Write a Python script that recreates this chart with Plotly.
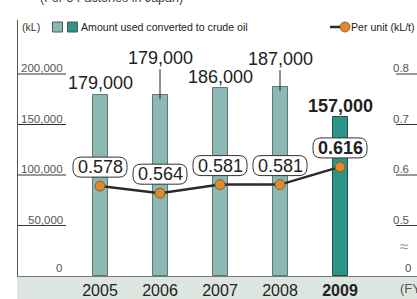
import plotly.graph_objects as go

# ---- data ----
years = [2005, 2006, 2007, 2008, 2009]
year_labels = ["2005", "2006", "2007", "2008", "<b>2009</b>"]
amount_kl = [179000, 179000, 186000, 187000, 157000]
amount_labels = ["179,000", "179,000", "186,000", "187,000", "<b>157,000</b>"]
per_unit = [0.578, 0.564, 0.581, 0.581, 0.616]
per_unit_labels = ["0.578", "0.564", "0.581", "0.581", "<b>0.616</b>"]
left_ticks = [50000, 100000, 150000, 200000]
left_tick_text = ["50,000", "100,000", "150,000", "200,000"]
right_ticks = [0.5, 0.6, 0.7, 0.8]
right_tick_text = ["0.5", "0.6", "0.7", "0.8"]

# ---- geometry ----
W, H = 417, 299
ML, MR, MT, MB = 18, 0, 20, 23
PW, PH = W - ML - MR, H - MT - MB
Y_MAX = PH / 50.5 * 50000          # 50,000 kL per 50.5 px
R_MIN = 0.4                        # right axis aligned: 0.5 <-> 50,000
R_MAX = R_MIN + Y_MAX / 500000
X_MIN, X_MAX = 2005 - 82 / 60, 2009 + 77 / 60


def px(xp):
    return (xp - ML) / PW


def py(yp):
    return (H - MB - yp) / PH


FONT = "Liberation Sans, Arial, Helvetica, sans-serif"
LIGHT, DARK = "#8cb8b3", "#2b9589"
LIGHT_LINE, DARK_LINE = "#5f7874", "#24504b"
SMALL = 10.6

fig = go.Figure()
fig.add_trace(go.Bar(
    x=years, y=amount_kl, width=0.25,
    marker=dict(color=[LIGHT] * 4 + [DARK],
                line=dict(color=[LIGHT_LINE] * 4 + [DARK_LINE], width=1)),
    showlegend=False, hoverinfo="skip"))
fig.add_trace(go.Scatter(
    x=years, y=per_unit, yaxis="y2", mode="lines+markers",
    line=dict(color="#2a2a2a", width=2.5),
    marker=dict(size=10, color="#e0892d", line=dict(color="#7a5222", width=0.8)),
    showlegend=False, hoverinfo="skip"))

shapes = []
annotations = []

# bottom grey band
shapes.append(dict(type="rect", xref="paper", yref="paper", x0=px(17), x1=1.0,
                   y0=py(H), y1=0, fillcolor="#dde5e0", line_width=0, layer="below"))

# left ticks (underlined labels)
for v, t in zip(left_ticks, left_tick_text):
    shapes.append(dict(type="line", xref="paper", yref="y", x0=0, x1=px(66), y0=v, y1=v,
                       line=dict(color="#333", width=1)))
    annotations.append(dict(xref="paper", yref="y", x=px(65), y=v, text=t, showarrow=False,
                            xanchor="right", yanchor="bottom", yshift=-2,
                            font=dict(family=FONT, size=11.5, color="#555")))
annotations.append(dict(xref="paper", yref="y", x=px(64), y=0, text="0", showarrow=False,
                        xanchor="right", yanchor="bottom", yshift=0,
                        font=dict(family=FONT, size=11.5, color="#555")))

# right ticks
for v, t in zip(right_ticks, right_tick_text):
    shapes.append(dict(type="line", xref="paper", yref="y2", x0=px(396), x1=1.0, y0=v, y1=v,
                       line=dict(color="#333", width=1)))
    annotations.append(dict(xref="paper", yref="y2", x=px(411), y=v, text=t, showarrow=False,
                            xanchor="right", yanchor="bottom", yshift=-2,
                            font=dict(family=FONT, size=11.5, color="#555")))
annotations.append(dict(xref="paper", yref="y2", x=px(413), y=R_MIN, text="0", showarrow=False,
                        xanchor="right", yanchor="bottom", yshift=0,
                        font=dict(family=FONT, size=11.5, color="#555")))
annotations.append(dict(xref="paper", yref="paper", x=px(404), y=py(246), text="≈",
                        showarrow=False, xanchor="center", yanchor="middle",
                        font=dict(family=FONT, size=16, color="#999")))
annotations.append(dict(xref="paper", yref="paper", x=px(398), y=py(288), text="(FY)",
                        showarrow=False, xanchor="left", yanchor="middle",
                        font=dict(family=FONT, size=13, color="#555")))

# title (cut at top)
annotations.append(dict(xref="paper", yref="paper", x=px(111), y=py(-2), text="(For 5 Factories in Japan)",
                        showarrow=False, xanchor="center", yanchor="middle",
                        font=dict(family=FONT, size=12.5, color="#444")))

# legend
annotations.append(dict(xref="paper", yref="paper", x=px(20), y=py(27), text="(kL)",
                        showarrow=False, xanchor="left", yanchor="middle",
                        font=dict(family=FONT, size=SMALL, color="#333")))
shapes.append(dict(type="rect", xref="paper", yref="paper", x0=px(52.5), x1=px(62.5),
                   y0=py(32), y1=py(22), fillcolor=LIGHT, line=dict(color="#555", width=1)))
shapes.append(dict(type="rect", xref="paper", yref="paper", x0=px(67.5), x1=px(77.5),
                   y0=py(32), y1=py(22), fillcolor=DARK, line=dict(color="#555", width=1)))
annotations.append(dict(xref="paper", yref="paper", x=px(79), y=py(27),
                        text="Amount used converted to crude oil",
                        showarrow=False, xanchor="left", yanchor="middle",
                        font=dict(family=FONT, size=SMALL, color="#222")))
shapes.append(dict(type="line", xref="paper", yref="paper", x0=px(330), x1=px(343),
                   y0=py(27), y1=py(27), line=dict(color="#2a2a2a", width=2.5)))
shapes.append(dict(type="circle", xref="paper", yref="paper", x0=px(340), x1=px(350),
                   y0=py(32), y1=py(22), fillcolor="#e0892d", line=dict(color="#7a5222", width=0.8)))
annotations.append(dict(xref="paper", yref="paper", x=px(349), y=py(27),
                        text="Per unit (kL/t)",
                        showarrow=False, xanchor="left", yanchor="middle",
                        font=dict(family=FONT, size=SMALL, color="#222")))

# amount labels
label_shift = [12.7, None, 11.5, None, 11]
arrow_ay = [None, -41.5, None, -32.5, None]
for i, (x, v, t) in enumerate(zip(years, amount_kl, amount_labels)):
    f = dict(family=FONT, size=18, color="#222")
    if arrow_ay[i] is None:
        annotations.append(dict(x=x, y=v, xref="x", yref="y", text=t, showarrow=False,
                                yanchor="middle", yshift=label_shift[i], font=f))
    else:
        annotations.append(dict(x=x, y=v, xref="x", yref="y", text=t, showarrow=True,
                                arrowhead=0, arrowwidth=1, arrowcolor="#222",
                                ax=0, ay=arrow_ay[i], yshift=-4, standoff=0, font=f))

# per-unit labels in rounded boxes
BW, BH, R, OFF = 54, 20, 8, 19
x0, x1 = -BW / 2, BW / 2
y0, y1 = OFF - BH / 2, OFF + BH / 2
path = (f"M {x0 + R},{y0} L {x1 - R},{y0} Q {x1},{y0} {x1},{y0 + R} "
        f"L {x1},{y1 - R} Q {x1},{y1} {x1 - R},{y1} L {x0 + R},{y1} "
        f"Q {x0},{y1} {x0},{y1 - R} L {x0},{y0 + R} Q {x0},{y0} {x0 + R},{y0} Z")
for x, v, t in zip(years, per_unit, per_unit_labels):
    shapes.append(dict(type="path", xref="x", yref="y2", xsizemode="pixel", ysizemode="pixel",
                       xanchor=x, yanchor=v, path=path, fillcolor="white",
                       line=dict(color="#333", width=1), layer="above"))
    annotations.append(dict(x=x, y=v, xref="x", yref="y2", text=t, showarrow=False,
                            yanchor="middle", yshift=OFF,
                            font=dict(family=FONT, size=18, color="#222")))

fig.update_layout(
    width=W, height=H, margin=dict(l=ML, r=MR, t=MT, b=MB),
    paper_bgcolor="white", plot_bgcolor="rgba(0,0,0,0)",
    bargap=0,
    xaxis=dict(range=[X_MIN, X_MAX], tickvals=years, ticktext=year_labels,
               showgrid=False, zeroline=False, showline=True, linecolor="#777", linewidth=1,
               ticks="", tickfont=dict(family=FONT, size=16, color="#222")),
    yaxis=dict(range=[0, Y_MAX], showgrid=False, zeroline=False, showticklabels=False,
               showline=True, linecolor="#555", linewidth=1, ticks=""),
    yaxis2=dict(range=[R_MIN, R_MAX], overlaying="y", side="right", showgrid=False,
                zeroline=False, showticklabels=False, showline=False, ticks=""),
    shapes=shapes, annotations=annotations, font=dict(family=FONT),
)

fig.write_html("out.html", config={"displayModeBar": False},
               post_script="document.body.style.margin='0';document.body.style.overflow='hidden';")
